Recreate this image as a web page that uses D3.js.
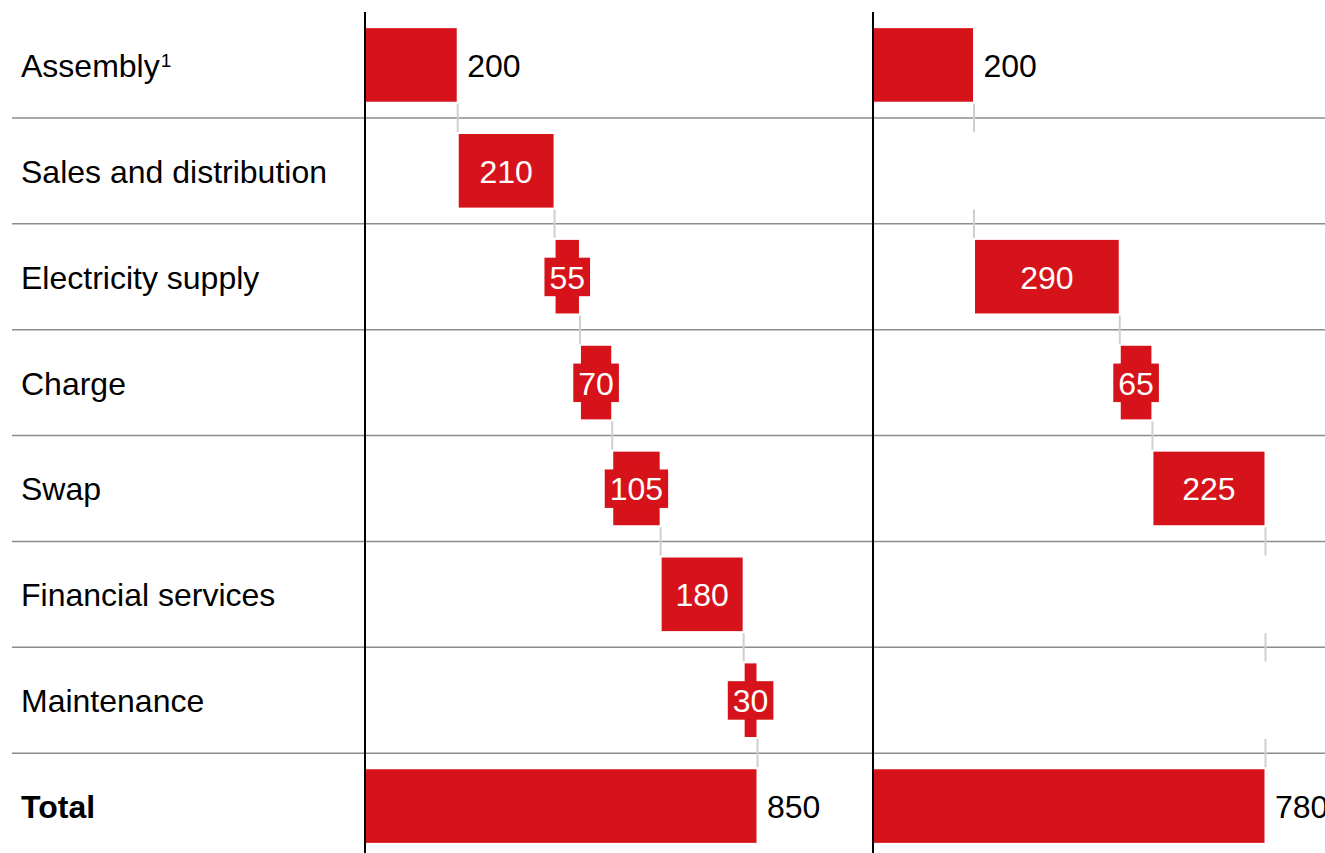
<!DOCTYPE html>
<html>
<head>
<meta charset="utf-8">
<script src="https://cdn.jsdelivr.net/npm/d3@7"></script>
<style>
  html, body { margin: 0; padding: 0; background: #fff; }
  svg { display: block; font-family: "Liberation Sans", Arial, sans-serif; }
</style>
</head>
<body>
<svg id="chart" width="1325" height="853"></svg>
<script>
// Cost components (row order, top to bottom)
const categories = [
  "Assembly", "Sales and distribution", "Electricity supply", "Charge",
  "Swap", "Financial services", "Maintenance", "Total"
];
// Left model: every component present
const leftValues = [200, 210, 55, 70, 105, 180, 30, 850];
// Right model: null where the component does not apply
const rightValues = [200, null, 290, 65, 225, null, null, 780];

const RED = "#d6131a";
const W = 1325, H = 853;
const FS = 32;
const svg = d3.select("#chart");

// Row bands
const y = d3.scaleBand().domain(categories).range([12, 859]).padding(0);
const barH = y.bandwidth() * 0.695;
const barY = c => y(c) + (y.bandwidth() - barH) / 2;

// Row separators
svg.append("g").selectAll("line")
  .data(categories.slice(1))
  .join("line")
  .attr("x1", 12).attr("x2", W)
  .attr("y1", d => y(d)).attr("y2", d => y(d))
  .attr("stroke", "#8c8c8c").attr("stroke-width", 1.5);

// Row labels
const labels = svg.append("g").selectAll("text")
  .data(categories)
  .join("text")
  .attr("x", 21)
  .attr("y", d => y(d) + y.bandwidth() / 2 + 12)
  .attr("font-size", FS)
  .attr("font-weight", d => d === "Total" ? "bold" : "normal")
  .attr("fill", "#000")
  .text(d => d);
labels.filter(d => d === "Assembly").append("tspan")
  .attr("font-size", 19).attr("dx", 1).attr("dy", -10).text("1");

function drawPanel(values, x0, x1) {
  const total = values[values.length - 1];
  const x = d3.scaleLinear().domain([0, total]).range([x0, x1]);
  const g = svg.append("g");

  // Running start/end for each component
  let run = 0;
  const rows = values.map((v, i) => {
    const isTotal = i === values.length - 1;
    const start = isTotal ? 0 : run;
    const end = isTotal ? v : run + (v || 0);
    if (!isTotal) run = end;
    return { cat: categories[i], v, start, end, isTotal, edge: i === 0 || isTotal };
  });

  // Connectors between consecutive rows at the running total
  const conn = rows.slice(0, -1).map((r, i) => ({ at: r.end, from: r.cat, to: rows[i + 1].cat }));
  g.append("g").selectAll("line")
    .data(conn)
    .join("line")
    .attr("x1", d => x(d.at) + 0.5).attr("x2", d => x(d.at) + 0.5)
    .attr("y1", d => barY(d.from) + barH + 2)
    .attr("y2", d => barY(d.to) - 2)
    .attr("stroke", "#cfcfcf").attr("stroke-width", 2);

  const present = rows.filter(r => r.v != null);

  // Bars
  g.append("g").selectAll("rect")
    .data(present)
    .join("rect")
    .attr("x", d => d.start === 0 ? x(0) : x(d.start) + 1.5)
    .attr("width", d => (d.start === 0 ? x(d.end) - x(0) : x(d.end) - x(d.start) - 1.5) - 0.5)
    .attr("y", d => barY(d.cat))
    .attr("height", barH)
    .attr("fill", RED);

  // Value labels
  const lg = g.append("g");
  present.forEach(d => {
    const cy = barY(d.cat) + barH / 2 + 12;
    if (d.edge) {
      lg.append("text")
        .attr("x", x(d.end) + 10).attr("y", cy)
        .attr("font-size", FS).attr("fill", "#000")
        .text(d.v);
      return;
    }
    const cx = (x(d.start) + x(d.end)) / 2 + 0.5;
    const boxG = lg.append("g");
    const t = lg.append("text")
      .attr("x", cx).attr("y", cy)
      .attr("text-anchor", "middle")
      .attr("font-size", FS).attr("fill", "#fff")
      .text(d.v);
    const tw = t.node().getComputedTextLength();
    const bw = x(d.end) - x(d.start);
    if (tw + 10 > bw) {
      boxG.append("rect")
        .attr("x", cx - tw / 2 - 5).attr("width", tw + 10)
        .attr("y", barY(d.cat) + barH / 2 - 19).attr("height", 38.5)
        .attr("fill", RED);
    }
  });

  // Baseline axis
  g.append("line")
    .attr("x1", x(0)).attr("x2", x(0))
    .attr("y1", 12).attr("y2", H)
    .attr("stroke", "#000").attr("stroke-width", 2);
}

drawPanel(leftValues, 365, 757);
drawPanel(rightValues, 873, 1265);
</script>
</body>
</html>
